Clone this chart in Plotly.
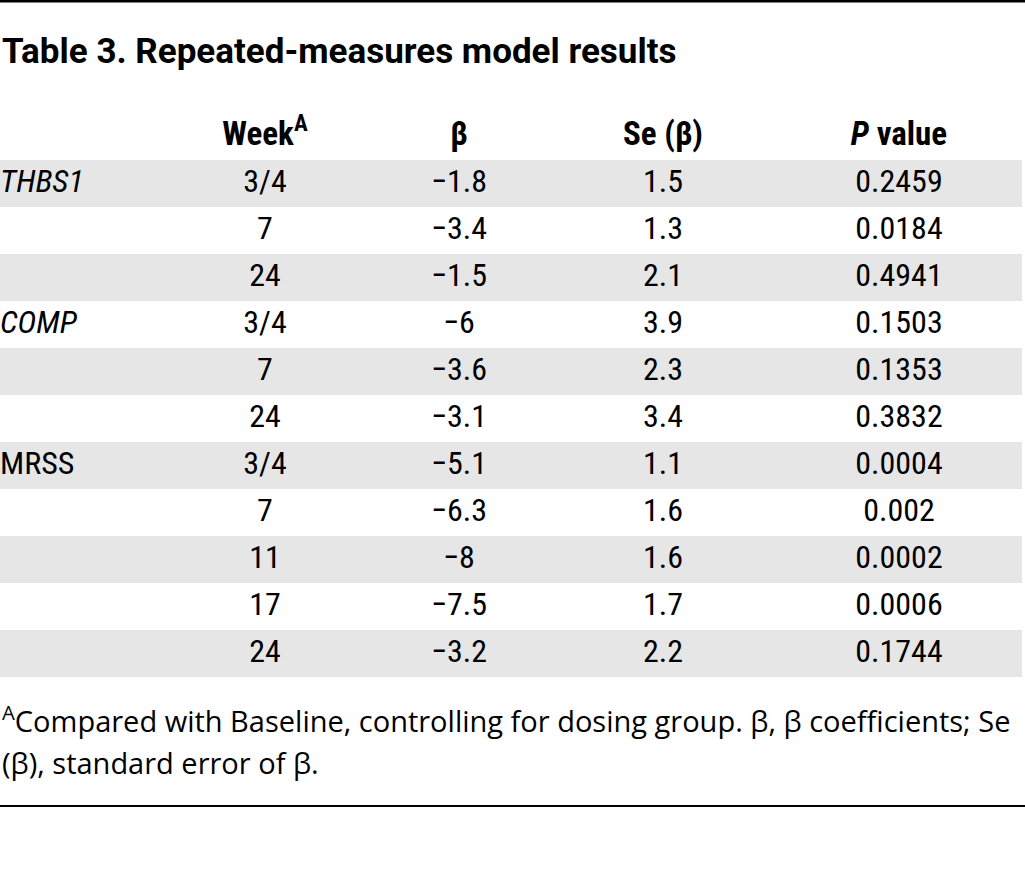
import plotly.graph_objects as go

# ---- data ----
title = "Table 3. Repeated-measures model results"
headers = ["Week<sup>A</sup>", "β", "Se (β)", "<i>P</i> value"]
genes = ["THBS1", "", "", "COMP", "", "", "MRSS", "", "", "", ""]
gene_italic = [True, False, False, True, False, False, False, False, False, False, False]
weeks = ["3/4", "7", "24", "3/4", "7", "24", "3/4", "7", "11", "17", "24"]
beta = [-1.8, -3.4, -1.5, -6, -3.6, -3.1, -5.1, -6.3, -8, -7.5, -3.2]
se_beta = [1.5, 1.3, 2.1, 3.9, 2.3, 3.4, 1.1, 1.6, 1.6, 1.7, 2.2]
p_values = ["0.2459", "0.0184", "0.4941", "0.1503", "0.1353", "0.3832",
            "0.0004", "0.002", "0.0002", "0.0006", "0.1744"]
footnote_1 = "<sup>A</sup>Compared with Baseline, controlling for dosing group. β, β coefficients; Se"
footnote_2 = "(β), standard error of β."

# ---- layout constants ----
W, H = 1025, 888
ROW_H = 47.0
HEADER_CENTER = 136.5
COL_X = [0, 265, 459, 663, 899]
SHADE_RIGHT = 1022
CELL_FONT = "Roboto Condensed, Roboto, sans-serif"
TITLE_FONT = "Roboto, sans-serif"
NOTE_FONT = "Open Sans, sans-serif"
SHADE = "#e6e6e6"

n = len(weeks)
row_idx = list(range(1, n + 1))


def fmt(v):
    return f"{v:g}".replace("-", "\u2212")


beta_text = [fmt(v) for v in beta]
se_text = [fmt(v) for v in se_beta]
lab_rows = [r for r, g in zip(row_idx, genes) if g]
lab_text = [f"<i>{g}</i>" if it else g for g, it in zip(genes, gene_italic) if g]

fig = go.Figure()

# shaded alternate rows
shade_rows = [r for r in row_idx if r % 2 == 1]
fig.add_trace(go.Bar(
    y=shade_rows, x=[SHADE_RIGHT] * len(shade_rows), base=0, width=1.0,
    orientation="h", marker=dict(color=SHADE, line=dict(width=0)),
    hoverinfo="skip", showlegend=False,
))

cell_font = dict(family=CELL_FONT, size=32, color="black")
head_font = dict(family=CELL_FONT, size=33, color="black")

# header
fig.add_trace(go.Scatter(
    x=COL_X[1:], y=[0] * len(headers), mode="text",
    text=[f"<b>{h}</b>" for h in headers],
    textposition="middle center", textfont=head_font,
    hoverinfo="skip", showlegend=False,
))

# gene labels
fig.add_trace(go.Scatter(
    x=[COL_X[0]] * len(lab_rows), y=lab_rows, mode="text", text=lab_text,
    textposition="middle right", textfont=cell_font,
    hoverinfo="skip", showlegend=False,
))

for cx, col in zip(COL_X[1:], [weeks, beta_text, se_text, p_values]):
    fig.add_trace(go.Scatter(
        x=[cx] * n, y=row_idx, mode="text", text=col,
        textposition="middle center", textfont=cell_font,
        hoverinfo="skip", showlegend=False,
    ))

y_top = -HEADER_CENTER / ROW_H
y_bot = (H - HEADER_CENTER) / ROW_H


def py(pix):
    return 1 - pix / H


fig.update_layout(
    width=W, height=H,
    margin=dict(l=0, r=0, t=0, b=0, pad=0),
    paper_bgcolor="white", plot_bgcolor="white",
    xaxis=dict(range=[0, W], visible=False, fixedrange=True),
    yaxis=dict(range=[y_bot, y_top], visible=False, fixedrange=True),
    bargap=0,
    annotations=[
        dict(text=f"<b>{title}</b>", x=0, y=py(51), xref="paper", yref="paper",
             xanchor="left", yanchor="middle", showarrow=False,
             font=dict(family=TITLE_FONT, size=35, color="black")),
        dict(text=footnote_1, x=0, y=py(719), xref="paper", yref="paper",
             xanchor="left", yanchor="middle", showarrow=False,
             font=dict(family=NOTE_FONT, size=29, color="black")),
        dict(text=footnote_2, x=0, y=py(762), xref="paper", yref="paper",
             xanchor="left", yanchor="middle", showarrow=False,
             font=dict(family=NOTE_FONT, size=29, color="black")),
    ],
    shapes=[
        dict(type="line", xref="paper", yref="paper", x0=0, x1=1,
             y0=py(1.2), y1=py(1.2), line=dict(color="black", width=2.5)),
        dict(type="line", xref="paper", yref="paper", x0=0, x1=1,
             y0=py(806), y1=py(806), line=dict(color="black", width=2)),
    ],
)

fig.write_html("out.html", config={"displayModeBar": False},
               post_script="document.body.style.margin='0px';")
